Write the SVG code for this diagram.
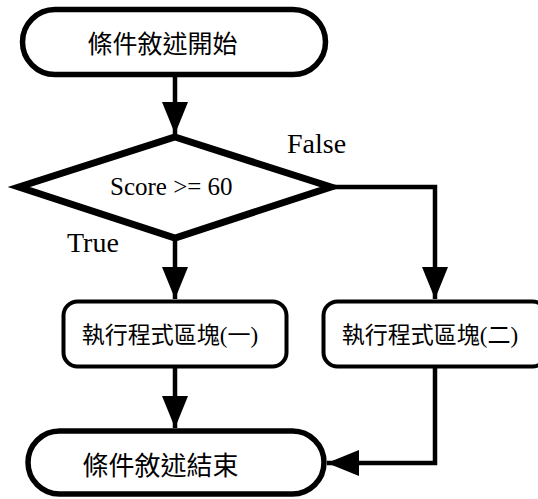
<svg xmlns="http://www.w3.org/2000/svg" width="538" height="499" viewBox="0 0 538 499">
<style>
.term{fill:#fff;stroke:#000;stroke-width:5.5}
.dia{fill:#fff;stroke:#000;stroke-width:7;stroke-linejoin:miter}
.box{fill:#fff;stroke:#000;stroke-width:4}
.cjk{font-family:"Liberation Serif","Noto Sans CJK TC",serif;fill:#000;text-anchor:middle}
.lat{font-family:"Liberation Serif",serif;fill:#000}
.conn{fill:none;stroke:#000;stroke-width:4.5;stroke-linejoin:miter}
</style>
<defs>
<marker id="ah" markerUnits="userSpaceOnUse" markerWidth="32" markerHeight="26" refX="32" refY="13" orient="auto" viewBox="0 0 32 26">
<path d="M0,0 L32,13 L0,26 z" fill="#000"/>
</marker>
</defs>
<rect width="538" height="499" fill="#fff"/>
<g id="connectors">
<path class="conn" d="M175,76 V134" marker-end="url(#ah)"/>
<path class="conn" d="M333,187 H435 V299" marker-end="url(#ah)"/>
<path class="conn" d="M175,240 V299" marker-end="url(#ah)"/>
<path class="conn" d="M175,368 V428" marker-end="url(#ah)"/>
<path class="conn" d="M435,368 V463 H327" marker-end="url(#ah)"/>
</g>
<g id="start">
<rect class="term" x="22.5" y="9.5" width="303" height="65" rx="32.5"/>
<text class="cjk" x="162.5" y="53" font-size="25">條件敘述開始</text>
</g>
<g id="decision">
<polygon class="dia" points="175,137 331,187 175,238 19,187"/>
<text class="lat" x="110" y="195" font-size="25">Score &gt;= 60</text>
</g>
<g id="label-false">
<text class="lat" x="287" y="153" font-size="28">False</text>
</g>
<g id="label-true">
<text class="lat" x="67" y="252" font-size="28">True</text>
</g>
<g id="block1">
<rect class="box" x="63.5" y="301.5" width="223" height="65" rx="14"/>
<text class="cjk" x="170" y="343" font-size="23">執行程式區塊(一)</text>
</g>
<g id="block2">
<rect class="box" x="323.5" y="301.5" width="223" height="65" rx="14"/>
<text class="cjk" x="430" y="343" font-size="23">執行程式區塊(二)</text>
</g>
<g id="end">
<rect class="term" x="28" y="431" width="296" height="63" rx="31.5"/>
<text class="cjk" x="160.5" y="475" font-size="26">條件敘述結束</text>
</g>
</svg>
